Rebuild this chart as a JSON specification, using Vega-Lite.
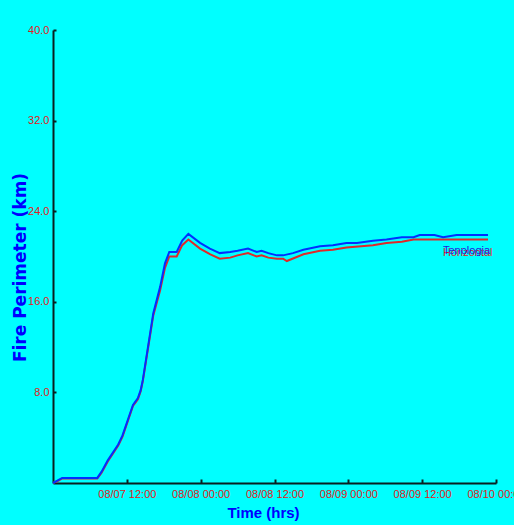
{
  "$schema": "https://vega.github.io/schema/vega-lite/v6.json",
  "width": 443,
  "height": 453,
  "autosize": {"type": "none"},
  "padding": {"left": 53, "top": 30, "right": 18, "bottom": 42},
  "background": "#00FFFF",
  "config": {"view": {"stroke": null}},
  "datasets": {
    "perim": [
      {"time": "2012-08-07T00:00", "km": 0.0, "series": "Tenologia"},
      {"time": "2012-08-07T00:42", "km": 0.2, "series": "Tenologia"},
      {"time": "2012-08-07T01:30", "km": 0.45, "series": "Tenologia"},
      {"time": "2012-08-07T07:12", "km": 0.45, "series": "Tenologia"},
      {"time": "2012-08-07T07:54", "km": 1.0, "series": "Tenologia"},
      {"time": "2012-08-07T08:54", "km": 2.0, "series": "Tenologia"},
      {"time": "2012-08-07T10:36", "km": 3.4, "series": "Tenologia"},
      {"time": "2012-08-07T11:18", "km": 4.2, "series": "Tenologia"},
      {"time": "2012-08-07T13:00", "km": 6.9, "series": "Tenologia"},
      {"time": "2012-08-07T13:48", "km": 7.5, "series": "Tenologia"},
      {"time": "2012-08-07T14:15", "km": 8.2, "series": "Tenologia"},
      {"time": "2012-08-07T14:36", "km": 9.1, "series": "Tenologia"},
      {"time": "2012-08-07T16:18", "km": 15.0, "series": "Tenologia"},
      {"time": "2012-08-07T17:24", "km": 17.3, "series": "Tenologia"},
      {"time": "2012-08-07T18:12", "km": 19.4, "series": "Tenologia"},
      {"time": "2012-08-07T18:54", "km": 20.4, "series": "Tenologia"},
      {"time": "2012-08-07T20:06", "km": 20.4, "series": "Tenologia"},
      {"time": "2012-08-07T21:00", "km": 21.4, "series": "Tenologia"},
      {"time": "2012-08-07T22:00", "km": 22.0, "series": "Tenologia"},
      {"time": "2012-08-07T23:54", "km": 21.2, "series": "Tenologia"},
      {"time": "2012-08-08T01:30", "km": 20.7, "series": "Tenologia"},
      {"time": "2012-08-08T03:06", "km": 20.3, "series": "Tenologia"},
      {"time": "2012-08-08T04:48", "km": 20.4, "series": "Tenologia"},
      {"time": "2012-08-08T06:00", "km": 20.5, "series": "Tenologia"},
      {"time": "2012-08-08T07:42", "km": 20.7, "series": "Tenologia"},
      {"time": "2012-08-08T09:06", "km": 20.4, "series": "Tenologia"},
      {"time": "2012-08-08T09:54", "km": 20.5, "series": "Tenologia"},
      {"time": "2012-08-08T11:00", "km": 20.3, "series": "Tenologia"},
      {"time": "2012-08-08T12:24", "km": 20.1, "series": "Tenologia"},
      {"time": "2012-08-08T13:24", "km": 20.1, "series": "Tenologia"},
      {"time": "2012-08-08T15:00", "km": 20.3, "series": "Tenologia"},
      {"time": "2012-08-08T16:42", "km": 20.6, "series": "Tenologia"},
      {"time": "2012-08-08T19:24", "km": 20.9, "series": "Tenologia"},
      {"time": "2012-08-08T21:30", "km": 21.0, "series": "Tenologia"},
      {"time": "2012-08-08T23:42", "km": 21.2, "series": "Tenologia"},
      {"time": "2012-08-09T01:24", "km": 21.2, "series": "Tenologia"},
      {"time": "2012-08-09T04:00", "km": 21.4, "series": "Tenologia"},
      {"time": "2012-08-09T06:12", "km": 21.5, "series": "Tenologia"},
      {"time": "2012-08-09T08:42", "km": 21.7, "series": "Tenologia"},
      {"time": "2012-08-09T10:36", "km": 21.7, "series": "Tenologia"},
      {"time": "2012-08-09T11:36", "km": 21.9, "series": "Tenologia"},
      {"time": "2012-08-09T14:00", "km": 21.9, "series": "Tenologia"},
      {"time": "2012-08-09T15:24", "km": 21.7, "series": "Tenologia"},
      {"time": "2012-08-09T17:36", "km": 21.9, "series": "Tenologia"},
      {"time": "2012-08-09T22:42", "km": 21.9, "series": "Tenologia"},
      {"time": "2012-08-07T00:00", "km": 0.0, "series": "Horizontal"},
      {"time": "2012-08-07T00:42", "km": 0.15, "series": "Horizontal"},
      {"time": "2012-08-07T01:30", "km": 0.4, "series": "Horizontal"},
      {"time": "2012-08-07T07:12", "km": 0.4, "series": "Horizontal"},
      {"time": "2012-08-07T07:54", "km": 0.9, "series": "Horizontal"},
      {"time": "2012-08-07T08:54", "km": 1.9, "series": "Horizontal"},
      {"time": "2012-08-07T10:36", "km": 3.3, "series": "Horizontal"},
      {"time": "2012-08-07T11:18", "km": 4.1, "series": "Horizontal"},
      {"time": "2012-08-07T13:00", "km": 6.8, "series": "Horizontal"},
      {"time": "2012-08-07T13:48", "km": 7.4, "series": "Horizontal"},
      {"time": "2012-08-07T14:15", "km": 8.1, "series": "Horizontal"},
      {"time": "2012-08-07T14:36", "km": 9.0, "series": "Horizontal"},
      {"time": "2012-08-07T16:18", "km": 14.8, "series": "Horizontal"},
      {"time": "2012-08-07T17:24", "km": 17.0, "series": "Horizontal"},
      {"time": "2012-08-07T18:12", "km": 19.0, "series": "Horizontal"},
      {"time": "2012-08-07T18:54", "km": 20.0, "series": "Horizontal"},
      {"time": "2012-08-07T20:06", "km": 20.0, "series": "Horizontal"},
      {"time": "2012-08-07T21:00", "km": 21.0, "series": "Horizontal"},
      {"time": "2012-08-07T22:00", "km": 21.5, "series": "Horizontal"},
      {"time": "2012-08-07T23:54", "km": 20.7, "series": "Horizontal"},
      {"time": "2012-08-08T01:30", "km": 20.2, "series": "Horizontal"},
      {"time": "2012-08-08T03:06", "km": 19.8, "series": "Horizontal"},
      {"time": "2012-08-08T04:48", "km": 19.9, "series": "Horizontal"},
      {"time": "2012-08-08T06:00", "km": 20.1, "series": "Horizontal"},
      {"time": "2012-08-08T07:42", "km": 20.3, "series": "Horizontal"},
      {"time": "2012-08-08T09:06", "km": 20.0, "series": "Horizontal"},
      {"time": "2012-08-08T09:54", "km": 20.1, "series": "Horizontal"},
      {"time": "2012-08-08T11:00", "km": 19.9, "series": "Horizontal"},
      {"time": "2012-08-08T12:24", "km": 19.8, "series": "Horizontal"},
      {"time": "2012-08-08T13:24", "km": 19.8, "series": "Horizontal"},
      {"time": "2012-08-08T14:00", "km": 19.6, "series": "Horizontal"},
      {"time": "2012-08-08T16:42", "km": 20.2, "series": "Horizontal"},
      {"time": "2012-08-08T19:24", "km": 20.5, "series": "Horizontal"},
      {"time": "2012-08-08T21:30", "km": 20.6, "series": "Horizontal"},
      {"time": "2012-08-08T23:42", "km": 20.8, "series": "Horizontal"},
      {"time": "2012-08-09T04:00", "km": 21.0, "series": "Horizontal"},
      {"time": "2012-08-09T06:12", "km": 21.2, "series": "Horizontal"},
      {"time": "2012-08-09T08:42", "km": 21.3, "series": "Horizontal"},
      {"time": "2012-08-09T10:36", "km": 21.5, "series": "Horizontal"},
      {"time": "2012-08-09T22:42", "km": 21.5, "series": "Horizontal"}
    ]
  },
  "data": {"name": "perim"},
  "encoding": {
    "x": {
      "field": "time",
      "type": "temporal",
      "scale": {"domain": ["2012-08-07T00:00", "2012-08-10T00:00"], "nice": false},
      "axis": {
        "title": "Time (hrs)",
        "values": ["2012-08-07T12:00", "2012-08-08T00:00", "2012-08-08T12:00", "2012-08-09T00:00", "2012-08-09T12:00", "2012-08-10T00:00"],
        "format": "%m/%d %H:%M",
        "grid": false,
        "domainColor": "#0a2020",
        "domainWidth": 2,
        "tickColor": "#0a2020",
        "tickWidth": 2,
        "tickSize": -4,
        "labelColor": "#E02020",
        "labelFont": "Liberation Sans",
        "labelFontSize": 11,
        "labelPadding": 9,
        "labelFlush": false,
        "labelOverlap": false,
        "titleColor": "#0000FF",
        "titleFont": "Liberation Sans",
        "titleFontSize": 15,
        "titleFontWeight": "bold",
        "titleX": 210,
        "titleY": 29,
        "titleBaseline": "middle"
      }
    },
    "y": {
      "field": "km",
      "type": "quantitative",
      "scale": {"domain": [0, 40], "nice": false},
      "axis": {
        "title": "Fire Perimeter (km)",
        "values": [8, 16, 24, 32, 40],
        "format": ".1f",
        "grid": false,
        "domainColor": "#0a2020",
        "domainWidth": 2,
        "tickColor": "#0a2020",
        "tickWidth": 2,
        "tickSize": -3,
        "labelColor": "#E02020",
        "labelFont": "Liberation Sans",
        "labelFontSize": 11,
        "labelPadding": 7,
        "titleColor": "#0000FF",
        "titleFont": "DejaVu Sans",
        "titleFontSize": 17,
        "titleFontWeight": "bold",
        "titleAngle": -90,
        "titleX": -33,
        "titleY": 237,
        "titleAlign": "center",
        "titleBaseline": "middle"
      }
    }
  },
  "layer": [
    {
      "transform": [{"filter": "datum.series === 'Horizontal'"}],
      "mark": {"type": "line", "color": "#E02828", "strokeWidth": 2},
      "encoding": {}
    },
    {
      "transform": [{"filter": "datum.series === 'Tenologia'"}],
      "mark": {"type": "line", "color": "#0030FF", "strokeWidth": 2},
      "encoding": {}
    },
    {
      "transform": [{"filter": "datum.series === 'Horizontal' && date(datum.time) === 9 && hours(datum.time) === 22"}],
      "mark": {"type": "text", "align": "left", "baseline": "middle", "dx": -45, "dy": 13, "color": "#E02020", "font": "Liberation Sans", "fontSize": 11},
      "encoding": {"text": {"field": "series"}}
    },
    {
      "transform": [{"filter": "datum.series === 'Tenologia' && date(datum.time) === 9 && hours(datum.time) === 22"}],
      "mark": {"type": "text", "align": "left", "baseline": "middle", "dx": -45, "dy": 16, "color": "#2020E0", "font": "Liberation Sans", "fontSize": 11},
      "encoding": {"text": {"field": "series"}}
    }
  ]
}
